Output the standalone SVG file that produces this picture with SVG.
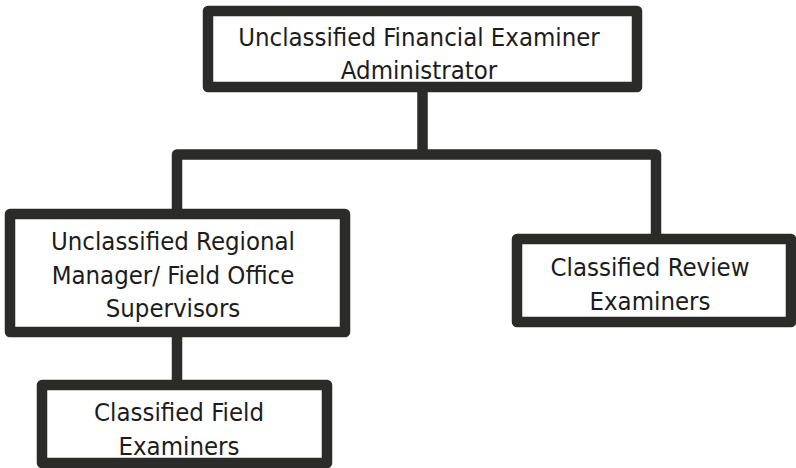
<svg xmlns="http://www.w3.org/2000/svg" width="796" height="468" viewBox="0 0 796 468">
  <style>
    .box { fill: #ffffff; stroke: #2b2c29; stroke-width: 10.5; stroke-linejoin: round; }
    .conn { fill: none; stroke: #2b2c29; stroke-width: 10.5; stroke-linejoin: round; }
    .lbl { font-family: "DejaVu Sans Condensed", "DejaVu Sans", sans-serif; font-stretch: condensed; font-size: 25.5px; fill: #1c1c1c; text-anchor: middle; }
  </style>
  <rect width="796" height="468" fill="#ffffff"/>
  <g id="connectors">
    <path class="conn" d="M422.5,87 V154.5"/>
    <path class="conn" d="M177,214 V154.5 H656 V239"/>
    <path class="conn" d="M177,332 V385"/>
  </g>
  <g id="admin">
    <rect class="box" x="208" y="11" width="429" height="76"/>
    <text class="lbl" x="419" y="46">Unclassified Financial Examiner</text>
    <text class="lbl" x="419" y="79">Administrator</text>
  </g>
  <g id="regional">
    <rect class="box" x="10" y="214" width="335" height="118"/>
    <text class="lbl" x="173" y="250">Unclassified Regional</text>
    <text class="lbl" x="173" y="284">Manager/ Field Office</text>
    <text class="lbl" x="173" y="317">Supervisors</text>
  </g>
  <g id="review">
    <rect class="box" x="517" y="239" width="274" height="83"/>
    <text class="lbl" x="650" y="276">Classified Review</text>
    <text class="lbl" x="650" y="310">Examiners</text>
  </g>
  <g id="field">
    <rect class="box" x="42" y="385" width="285" height="78"/>
    <text class="lbl" x="179" y="421">Classified Field</text>
    <text class="lbl" x="179" y="455">Examiners</text>
  </g>
</svg>
